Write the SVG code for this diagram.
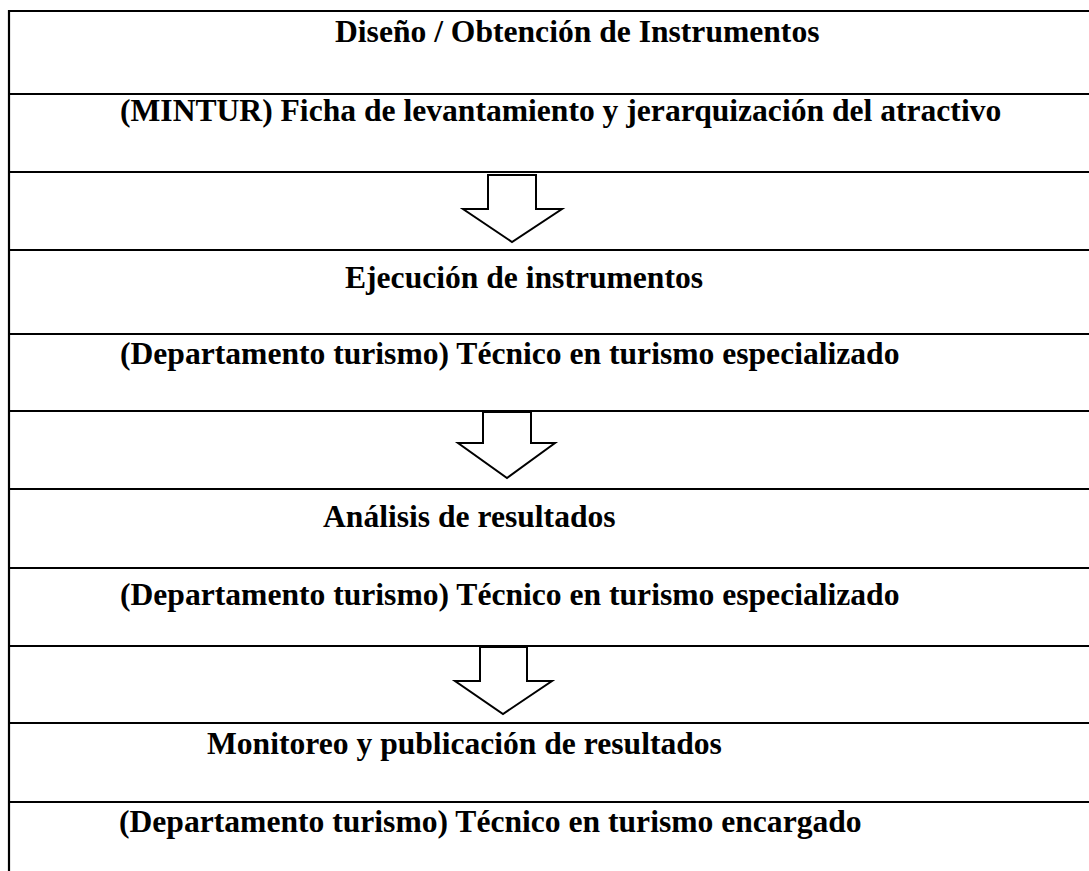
<svg xmlns="http://www.w3.org/2000/svg" width="1089" height="871" viewBox="0 0 1089 871">
<style>
.t{font-family:"Liberation Serif","Times New Roman",serif;font-weight:bold;font-size:31.6px;fill:#000}
.ln{stroke:#000;stroke-width:2.2;fill:none}
.ar{stroke:#000;stroke-width:2;fill:#fff;stroke-linejoin:miter}
</style>
<rect width="1089" height="871" fill="#fff"/>
<g id="table">
<line class="ln" x1="9" y1="10" x2="9" y2="871"/>
<line class="ln" x1="8" y1="11" x2="1089" y2="11"/>
<line class="ln" x1="8" y1="94" x2="1089" y2="94"/>
<line class="ln" x1="8" y1="172" x2="1089" y2="172"/>
<line class="ln" x1="8" y1="250" x2="1089" y2="250"/>
<line class="ln" x1="8" y1="334" x2="1089" y2="334"/>
<line class="ln" x1="8" y1="411" x2="1089" y2="411"/>
<line class="ln" x1="8" y1="489" x2="1089" y2="489"/>
<line class="ln" x1="8" y1="568" x2="1089" y2="568"/>
<line class="ln" x1="8" y1="646" x2="1089" y2="646"/>
<line class="ln" x1="8" y1="723" x2="1089" y2="723"/>
<line class="ln" x1="8" y1="802" x2="1089" y2="802"/>
</g>
<g id="n1"><text class="t" x="335" y="42">Diseño / Obtención de Instrumentos</text></g>
<g id="n2"><text class="t" x="120" y="121">(MINTUR) Ficha de levantamiento y jerarquización del atractivo</text></g>
<g id="n3"><text class="t" x="345" y="288">Ejecución de instrumentos</text></g>
<g id="n4"><text class="t" x="120" y="364">(Departamento turismo) Técnico en turismo especializado</text></g>
<g id="n5"><text class="t" x="323" y="527">Análisis de resultados</text></g>
<g id="n6"><text class="t" x="120" y="605">(Departamento turismo) Técnico en turismo especializado</text></g>
<g id="n7"><text class="t" x="207" y="754">Monitoreo y publicación de resultados</text></g>
<g id="n8"><text class="t" x="119" y="832">(Departamento turismo) Técnico en turismo encargado</text></g>
<g id="connectors">
<path class="ar" d="M488,175 L536,175 L536,209 L562,209 L512,242 L463,209 L488,209 Z"/>
<path class="ar" d="M483,412 L531,412 L531,443 L555,443 L507,478 L458,443 L483,443 Z"/>
<path class="ar" d="M480,647 L527,647 L527,681 L552,681 L503,714 L455,681 L480,681 Z"/>
</g>
</svg>
